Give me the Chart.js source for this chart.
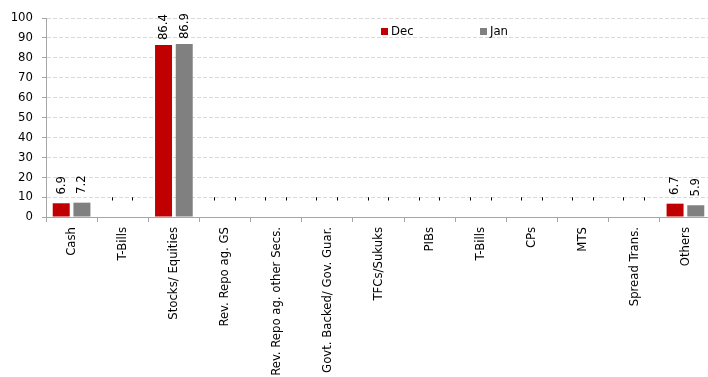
<!DOCTYPE html>
<html>
<head>
<meta charset="utf-8">
<script src="https://cdn.jsdelivr.net/npm/chart.js@4"></script>
<style>
  html, body { margin: 0; padding: 0; background: #fff; overflow: hidden; }
  #wrap { position: relative; width: 712px; height: 377px; }
</style>
</head>
<body>
<div id="wrap"><canvas id="allocChart" width="712" height="377"></canvas></div>
<script>
// ─── DATA ───
const categories = [
  'Cash', 'T-Bills', 'Stocks/ Equities', 'Rev. Repo ag. GS',
  'Rev. Repo ag. other Secs.', 'Govt. Backed/ Gov. Guar.', 'TFCs/Sukuks',
  'PIBs', 'T-Bills', 'CPs', 'MTS', 'Spread Trans.', 'Others'
];
const decValues = [6.9, 0, 86.4, 0, 0, 0, 0, 0, 0, 0, 0, 0, 6.7];
const janValues = [7.2, 0, 86.9, 0, 0, 0, 0, 0, 0, 0, 0, 0, 5.9];
const yTicks = [0, 10, 20, 30, 40, 50, 60, 70, 80, 90, 100];

const FONT = '"DejaVu Sans Condensed", "DejaVu Sans", sans-serif';
const AXIS_GREY = '#a6a6a6';

// value labels, rotated, "-" for empty cells
const valueLabels = {
  id: 'valueLabels',
  afterDatasetsDraw(chart) {
    const ctx = chart.ctx;
    ctx.save();
    ctx.font = '13px ' + FONT;
    ctx.fillStyle = '#000';
    ctx.textAlign = 'center';
    ctx.textBaseline = 'middle';
    chart.data.datasets.forEach((ds, di) => {
      chart.getDatasetMeta(di).data.forEach((bar, i) => {
        const v = ds.data[i];
        const txt = v === 0 ? '-' : v.toFixed(1);
        ctx.save();
        ctx.translate(bar.x, bar.y - 18);
        ctx.rotate(-Math.PI / 2);
        ctx.fillText(txt, 0, 0);
        ctx.restore();
      });
    });
    ctx.restore();
  }
};

// small legend inside the plot
const insideLegend = {
  id: 'insideLegend',
  afterDraw(chart) {
    const ctx = chart.ctx;
    const spots = [381, 480];
    ctx.save();
    ctx.font = '13px ' + FONT;
    ctx.textBaseline = 'middle';
    ctx.textAlign = 'left';
    chart.data.datasets.forEach((ds, i) => {
      const x = spots[i];
      ctx.fillStyle = ds.backgroundColor;
      ctx.fillRect(x, 28, 7, 7);
      ctx.fillStyle = '#000';
      ctx.fillText(ds.label, x + 10, 32);
    });
    ctx.restore();
  }
};

new Chart(document.getElementById('allocChart'), {
  type: 'bar',
  data: {
    labels: categories,
    datasets: [
      { label: 'Dec', data: decValues, backgroundColor: '#c00000' },
      { label: 'Jan', data: janValues, backgroundColor: '#808080' }
    ]
  },
  options: {
    responsive: false,
    animation: false,
    devicePixelRatio: 1,
    categoryPercentage: 0.81,
    barPercentage: 0.82,
    layout: { padding: { top: 18, right: 1, left: 0, bottom: 0 } },
    plugins: { legend: { display: false }, tooltip: { enabled: false } },
    scales: {
      x: {
        grid: {
          drawOnChartArea: false,
          drawTicks: true,
          tickLength: 5,
          tickColor: AXIS_GREY,
          offset: true
        },
        border: { color: AXIS_GREY, width: 1 },
        ticks: {
          autoSkip: false,
          maxRotation: 90,
          minRotation: 90,
          padding: 5,
          color: '#000',
          font: { family: FONT, size: 13 }
        },
        afterFit(scale) { scale.height = 160; }
      },
      y: {
        min: 0,
        max: 100,
        afterBuildTicks(scale) { scale.ticks = yTicks.map(v => ({ value: v })); },
        grid: {
          color: '#d9d9d9',
          tickColor: AXIS_GREY,
          tickLength: 4,
          tickBorderDash: []
        },
        border: { color: AXIS_GREY, width: 1, dash: [4, 2] },
        ticks: {
          padding: 9,
          color: '#000',
          font: { family: FONT, size: 13 }
        },
        afterFit(scale) { scale.width = 46; }
      }
    }
  },
  plugins: [valueLabels, insideLegend]
});
</script>
</body>
</html>
